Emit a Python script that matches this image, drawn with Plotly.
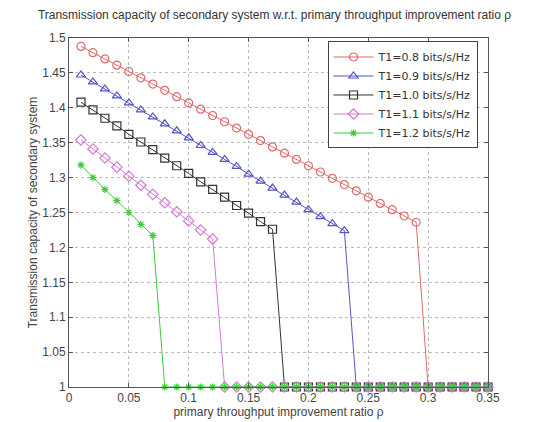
import plotly.graph_objects as go

x_vals = [0.01, 0.02, 0.03, 0.04, 0.05, 0.06, 0.07, 0.08, 0.09, 0.10,
          0.11, 0.12, 0.13, 0.14, 0.15, 0.16, 0.17, 0.18, 0.19, 0.20,
          0.21, 0.22, 0.23, 0.24, 0.25, 0.26, 0.27, 0.28, 0.29, 0.30,
          0.31, 0.32, 0.33, 0.34, 0.35]

t08 = [1.488, 1.479, 1.470, 1.461, 1.452, 1.443, 1.434, 1.425, 1.416, 1.407,
       1.398, 1.389, 1.380, 1.371, 1.362, 1.353, 1.344, 1.335, 1.326, 1.317,
       1.308, 1.299, 1.290, 1.281, 1.272, 1.263, 1.254, 1.245, 1.236, 1.0,
       1.0, 1.0, 1.0, 1.0, 1.0]
t09 = [1.447, 1.437, 1.427, 1.417, 1.407, 1.397, 1.387, 1.377, 1.367, 1.357,
       1.346, 1.336, 1.326, 1.316, 1.305, 1.295, 1.285, 1.275, 1.265, 1.254,
       1.244, 1.234, 1.224, 1.0, 1.0, 1.0, 1.0, 1.0, 1.0, 1.0,
       1.0, 1.0, 1.0, 1.0, 1.0]
t10 = [1.408, 1.397, 1.385, 1.374, 1.362, 1.351, 1.340, 1.328, 1.317, 1.306,
       1.294, 1.283, 1.272, 1.260, 1.249, 1.237, 1.226, 1.0, 1.0, 1.0,
       1.0, 1.0, 1.0, 1.0, 1.0, 1.0, 1.0, 1.0, 1.0, 1.0,
       1.0, 1.0, 1.0, 1.0, 1.0]
t11 = [1.354, 1.341, 1.328, 1.315, 1.302, 1.289, 1.276, 1.264, 1.251, 1.238,
       1.225, 1.212, 1.0, 1.0, 1.0, 1.0, 1.0, 1.0, 1.0, 1.0,
       1.0, 1.0, 1.0, 1.0, 1.0, 1.0, 1.0, 1.0, 1.0, 1.0,
       1.0, 1.0, 1.0, 1.0, 1.0]
t12 = [1.318, 1.300, 1.283, 1.267, 1.250, 1.233, 1.217, 1.0, 1.0, 1.0,
       1.0, 1.0, 1.0, 1.0, 1.0, 1.0, 1.0, 1.0, 1.0, 1.0,
       1.0, 1.0, 1.0, 1.0, 1.0, 1.0, 1.0, 1.0, 1.0, 1.0,
       1.0, 1.0, 1.0, 1.0, 1.0]

series_names = ["T1=0.8 bits/s/Hz", "T1=0.9 bits/s/Hz", "T1=1.0 bits/s/Hz",
                "T1=1.1 bits/s/Hz", "T1=1.2 bits/s/Hz"]

x_ticks = [0, 0.05, 0.1, 0.15, 0.2, 0.25, 0.3, 0.35]
x_tick_text = ["0", "0.05", "0.1", "0.15", "0.2", "0.25", "0.3", "0.35"]
y_ticks = [1.0, 1.05, 1.1, 1.15, 1.2, 1.25, 1.3, 1.35, 1.4, 1.45, 1.5]
y_tick_text = ["1", "1.05", "1.1", "1.15", "1.2", "1.25", "1.3", "1.35", "1.4", "1.45", "1.5"]

styles = [
    ("#e06a6a", "circle-open", 8),
    ("#5555c8", "triangle-up-open", 8),
    ("#333333", "square-open", 8),
    ("#d47ad4", "diamond-open", 8),
    ("#3ccc3c", "asterisk-open", 6),
]

fig = go.Figure()
for name, ys, (col, sym, sz) in zip(series_names, [t08, t09, t10, t11, t12], styles):
    fig.add_trace(go.Scatter(
        x=x_vals, y=ys, mode="lines+markers", name=name, cliponaxis=False,
        line=dict(color=col, width=1),
        marker=dict(symbol=sym, size=sz, color=col, line=dict(color=col, width=1.2)),
    ))

axis_common = dict(
    showline=True, linecolor="#555555", linewidth=1, mirror="ticks",
    ticks="inside", ticklen=4, tickcolor="#555555",
    showgrid=True, gridcolor="#bbbbbb", griddash="dot", gridwidth=1,
    zeroline=False, tickfont=dict(family="Arial, Liberation Sans", size=12, color="#444444"),
)

fig.update_layout(
    width=533, height=422,
    margin=dict(l=61, r=53, t=30, b=43),
    paper_bgcolor="white", plot_bgcolor="white",
    font=dict(family="Arial, Liberation Sans", color="#333333"),
    title=dict(text="Transmission capacity of secondary system w.r.t. primary throughput improvement ratio ρ",
               x=0.5, xanchor="center", y=0.995, yanchor="top",
               font=dict(size=12, color="#333333")),
    xaxis=dict(range=[0, 0.35], tickvals=x_ticks, ticktext=x_tick_text,
               title=dict(text="primary throughput improvement ratio ρ", standoff=3,
                          font=dict(size=12, color="#444444")),
               **axis_common),
    yaxis=dict(range=[1.0, 1.5], tickvals=y_ticks, ticktext=y_tick_text,
               title=dict(text="Transmission capacity of secondary system", standoff=2,
                          font=dict(size=12, color="#444444")),
               **axis_common),
    legend=dict(x=0.975, y=0.99, xanchor="right", yanchor="top",
                bgcolor="white", bordercolor="#444444", borderwidth=1,
                itemwidth=40,
                font=dict(family="DejaVu Sans", size=11, color="#333333"), tracegroupgap=0),
    showlegend=True,
)

fig.write_html("out.html")
